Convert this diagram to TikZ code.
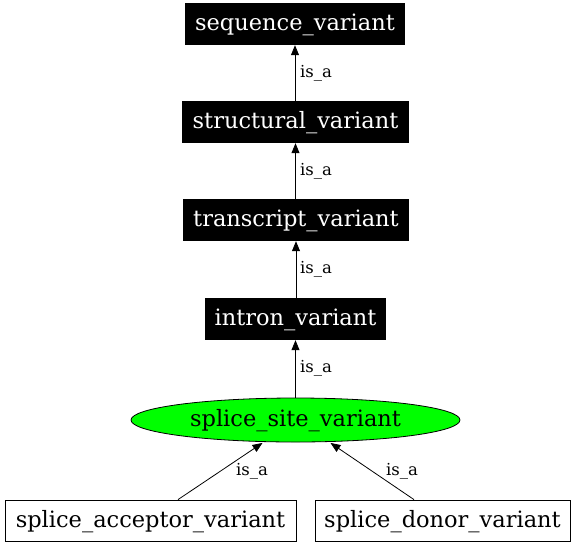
\documentclass[tikz,border=0pt]{standalone}
\usepackage{fontspec}
\setmainfont{DejaVu Serif}
\usetikzlibrary{arrows.meta,shapes.geometric,calc}
\tikzset{
  base/.style={inner sep=0pt,font=\fontsize{22.5}{26}\selectfont,text height=16pt,text depth=3pt},
  blackbox/.style={base,rectangle,fill=black,text=white,minimum height=42pt},
  whitebox/.style={base,rectangle,draw=black,fill=white,text=black,minimum height=41pt,line width=0.8pt},
  greenell/.style={base,ellipse,draw=black,fill=green,minimum height=44pt,line width=0.8pt},
  isa/.style={-{Triangle[length=10pt,width=8pt]},line width=0.8pt},
  lbl/.style={font=\fontsize{16.5}{18}\selectfont,inner sep=0pt,anchor=west}
}
\begin{document}
\begin{tikzpicture}[x=1pt,y=-1pt]
\useasboundingbox (0,0) rectangle (576,547);
\node[blackbox,minimum width=220pt] (seq) at (295,24) {sequence\_variant};
\node[blackbox,minimum width=227pt] (str) at (295.5,122) {structural\_variant};
\node[blackbox,minimum width=226pt] (tra) at (296,220) {transcript\_variant};
\node[blackbox,minimum width=181pt] (int) at (295.5,319) {intron\_variant};
\node[greenell,minimum width=329pt] (ssv) at (295.5,420) {splice\_site\_variant};
\node[whitebox,minimum width=291pt] (acc) at (150.5,520.5) {splice\_acceptor\_variant};
\node[whitebox,minimum width=255pt] (don) at (442.5,520.5) {splice\_donor\_variant};
\draw[isa] (str.north -| seq.south) -- (seq.south);
\draw[isa] (tra.north -| str.south) -- (str.south);
\draw[isa] (int.north -| tra.south) -- (tra.south);
\draw[isa] (ssv.north -| int.south) -- (int.south);
\draw[isa] ([xshift=27.5pt]acc.north) -- ([xshift=-33pt,yshift=-0.5pt]ssv.south);
\draw[isa] ([xshift=-28.5pt]don.north) -- ([xshift=35pt,yshift=-0.5pt]ssv.south);
\node[lbl] (l1) at (300,73) {is\_a};
\node[lbl] (l2) at (300,171) {is\_a};
\node[lbl] (l3) at (300,269) {is\_a};
\node[lbl] (l4) at (300,368) {is\_a};
\node[lbl] (l5) at (236,471) {is\_a};
\node[lbl] (l6) at (386,471) {is\_a};
\end{tikzpicture}
\end{document}
